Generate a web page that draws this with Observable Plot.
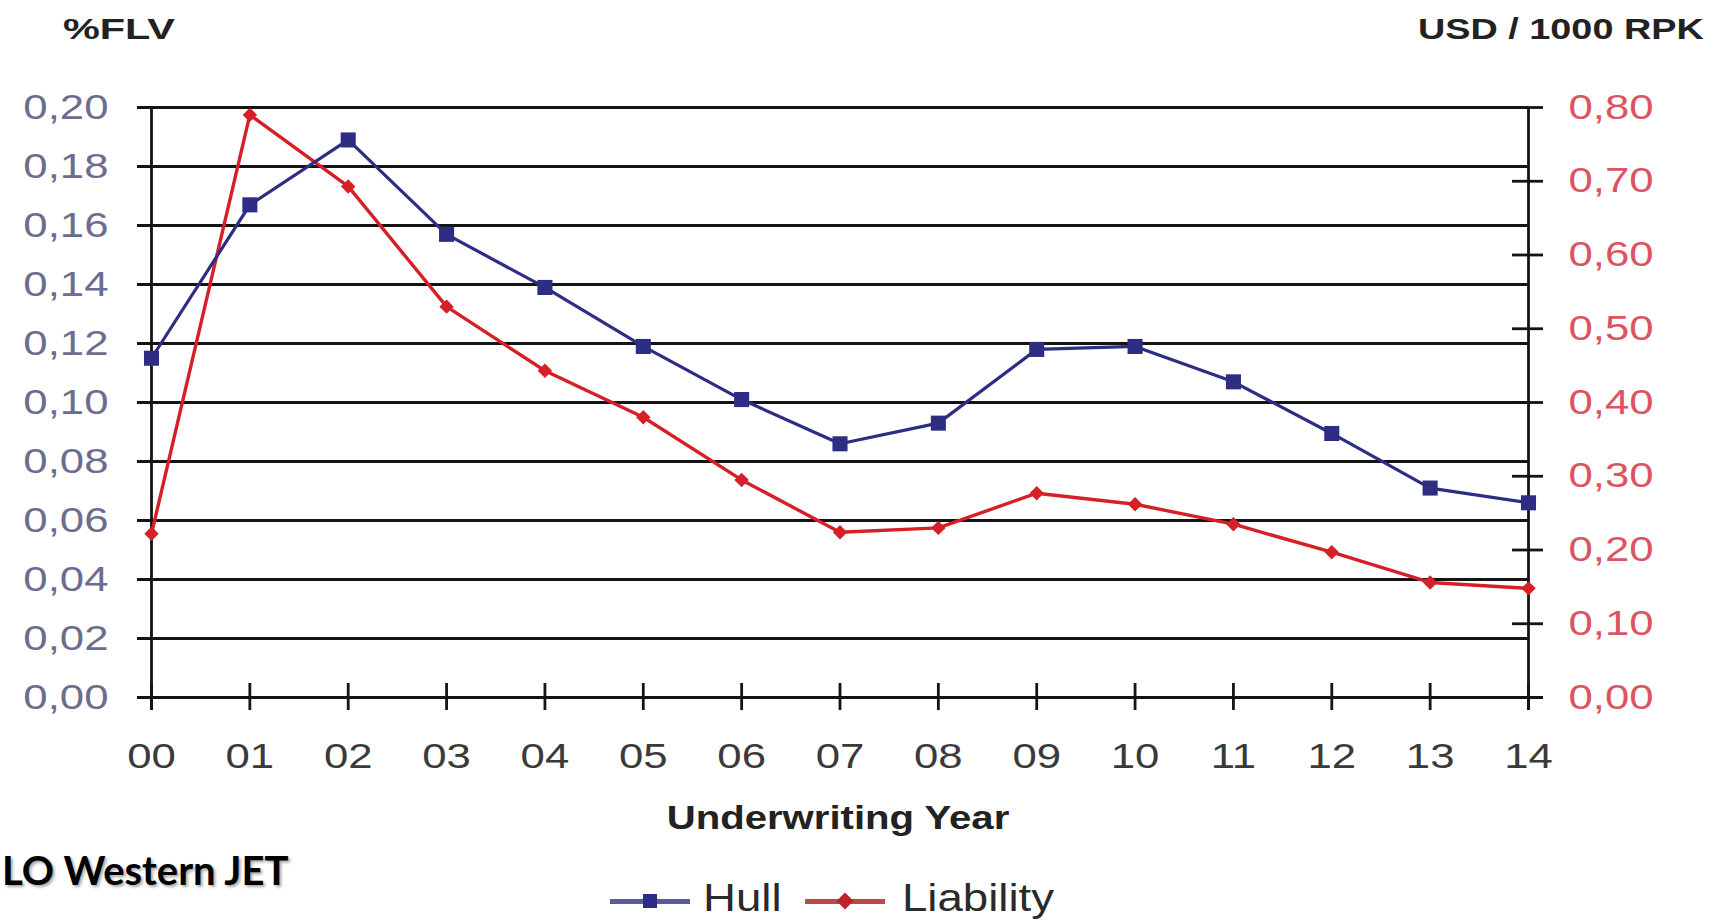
<!DOCTYPE html>
<html>
<head>
<meta charset="utf-8">
<script src="https://cdn.jsdelivr.net/npm/d3@7"></script>
<script src="https://cdn.jsdelivr.net/npm/@observablehq/plot@0.6"></script>
<style>
  body { margin: 0; background: #fff; }
  #wrap { position: relative; width: 1718px; height: 920px; overflow: hidden; background: #fff;
          font-family: "Liberation Sans", Arial, sans-serif; }
  #wrap svg { position: absolute; left: 0; top: 0; }
  .t { position: absolute; white-space: nowrap; line-height: 1; }
  .leg { position: absolute; }
</style>
</head>
<body>
<div id="wrap"></div>
<script>
// ---- data ----
const years = ["00","01","02","03","04","05","06","07","08","09","10","11","12","13","14"];
const hull = [0.115, 0.167, 0.189, 0.157, 0.139, 0.119, 0.101, 0.086, 0.093, 0.118, 0.119, 0.107, 0.0895, 0.071, 0.066];
const liability = [0.222, 0.79, 0.693, 0.53, 0.443, 0.38, 0.295, 0.224, 0.23, 0.277, 0.262, 0.235, 0.197, 0.156, 0.148];
const leftTicks = [0, 0.02, 0.04, 0.06, 0.08, 0.10, 0.12, 0.14, 0.16, 0.18, 0.20];
const rightTicks = [0, 0.1, 0.2, 0.3, 0.4, 0.5, 0.6, 0.7, 0.8];
const leftTitle = "%FLV";
const rightTitle = "USD / 1000 RPK";
const xTitle = "Underwriting Year";
const sideNote = "LO Western JET";
const seriesNames = ["Hull", "Liability"];

// ---- colours ----
const hullColor = "#2d2d84";
const liabColor = "#d42026";

const leftMax = d3.max(leftTicks), rightMax = d3.max(rightTicks);
const ratio = leftMax / rightMax;  // map right axis onto left scale
const idx = years.map((_, i) => i);
const hullData = idx.map(i => ({i, v: hull[i]}));
const liabData = idx.map(i => ({i, v: liability[i] * ratio}));
const comma = (d, n) => d.toFixed(n).replace(".", ",");

const chart = Plot.plot({
  width: 1718, height: 920,
  marginLeft: 151, marginRight: 190, marginTop: 107, marginBottom: 223,
  style: {background: "transparent", fontFamily: "Liberation Sans, Arial, sans-serif"},
  x: {type: "linear", domain: [0, years.length - 1]},
  y: {domain: [0, leftMax]},
  marks: [
    Plot.ruleY(leftTicks.filter(d => d > 0), {x1: 0, x2: years.length - 1, insetLeft: -14, stroke: "#141414", strokeWidth: 2.8}),
    Plot.ruleY([0], {x1: 0, x2: years.length - 1, insetLeft: -14, insetRight: -15, stroke: "#141414", strokeWidth: 2.8}),
    Plot.ruleX([0, years.length - 1], {y1: leftMax, y2: 0, insetBottom: -13, stroke: "#141414", strokeWidth: 2.8}),
    Plot.ruleX(idx, {y1: 0, y2: 0, insetTop: -14, insetBottom: -13, stroke: "#141414", strokeWidth: 2.8}),
    Plot.ruleY(rightTicks.map(d => d * ratio), {x1: years.length - 1, x2: years.length - 1, insetLeft: -16, insetRight: -15, stroke: "#141414", strokeWidth: 2.8}),
    Plot.axisY({ticks: leftTicks, tickSize: 0, tickPadding: 43, tickFormat: d => comma(d, 2),
      fill: "#6c6c8e", fontSize: 35, label: null}),
    Plot.axisY({anchor: "right", ticks: rightTicks.map(d => d * ratio), tickSize: 0, tickPadding: 40,
      tickFormat: d => comma(d / ratio, 2), fill: "#dc5462", fontSize: 35, label: null}),
    Plot.axisX({ticks: idx, tickSize: 0, tickPadding: 46, tickFormat: i => years[i],
      fill: "#3a3a3a", fontSize: 35, label: null}),
    Plot.line(liabData, {x: "i", y: "v", stroke: liabColor, strokeWidth: 3.4}),
    Plot.dot(liabData, {x: "i", y: "v", symbol: "diamond2", r: 6.5, fill: liabColor}),
    Plot.line(hullData, {x: "i", y: "v", stroke: hullColor, strokeWidth: 3.2}),
    Plot.dot(hullData, {x: "i", y: "v", symbol: "square", r: 8.5, fill: hullColor})
  ]
});

// horizontally widen the tick labels like in the reference
chart.querySelectorAll("text").forEach(t => {
  const tr = t.getAttribute("transform");
  t.setAttribute("transform", (tr ? tr + " " : "") + "scale(1.25,1)");
});

const wrap = document.getElementById("wrap");
wrap.appendChild(chart);

function addText(txt, css) {
  const d = document.createElement("div");
  d.className = "t";
  d.textContent = txt;
  Object.assign(d.style, css);
  wrap.appendChild(d);
  return d;
}
addText(leftTitle, {left: "63px", top: "14px", fontSize: "30px", fontWeight: "bold", color: "#222",
  transform: "scaleX(1.38)", transformOrigin: "0 0"});
addText(rightTitle, {left: "1418px", top: "14px", fontSize: "30px", fontWeight: "bold", color: "#222",
  transform: "scaleX(1.26)", transformOrigin: "0 0"});
addText(xTitle, {left: "838px", top: "800px", fontSize: "34px", fontWeight: "bold", color: "#222",
  transform: "translateX(-50%) scaleX(1.18)", transformOrigin: "50% 0"});
addText(sideNote, {left: "2px", top: "850px", fontSize: "40px", fontWeight: "bold", color: "#000",
  fontFamily: "Lato, 'Open Sans', sans-serif", textShadow: "2px 2px 3px rgba(0,0,0,0.35)"});

// legend
function legendItem(name, x0, x1, lineColor, markColor, shape, textLeft) {
  const ln = document.createElement("div");
  ln.className = "leg";
  Object.assign(ln.style, {left: x0 + "px", top: "899px", width: (x1 - x0) + "px", height: "5px", background: lineColor});
  wrap.appendChild(ln);
  const mk = document.createElement("div");
  mk.className = "leg";
  const cx = (x0 + x1) / 2;
  if (shape === "square") {
    Object.assign(mk.style, {left: (cx - 7) + "px", top: "894px", width: "14px", height: "14px", background: markColor});
  } else {
    Object.assign(mk.style, {left: (cx - 6) + "px", top: "895px", width: "12px", height: "12px", background: markColor,
      transform: "rotate(45deg)"});
  }
  wrap.appendChild(mk);
  addText(name, {left: textLeft + "px", top: "879px", fontSize: "38px", color: "#2a2a2a",
    transform: "scaleX(1.2)", transformOrigin: "0 0"});
}
legendItem(seriesNames[0], 610, 690, "#5a5aa0", hullColor, "square", 703);
legendItem(seriesNames[1], 805, 885, "#b84a4a", "#c0202a", "diamond", 902);
</script>
</body>
</html>
